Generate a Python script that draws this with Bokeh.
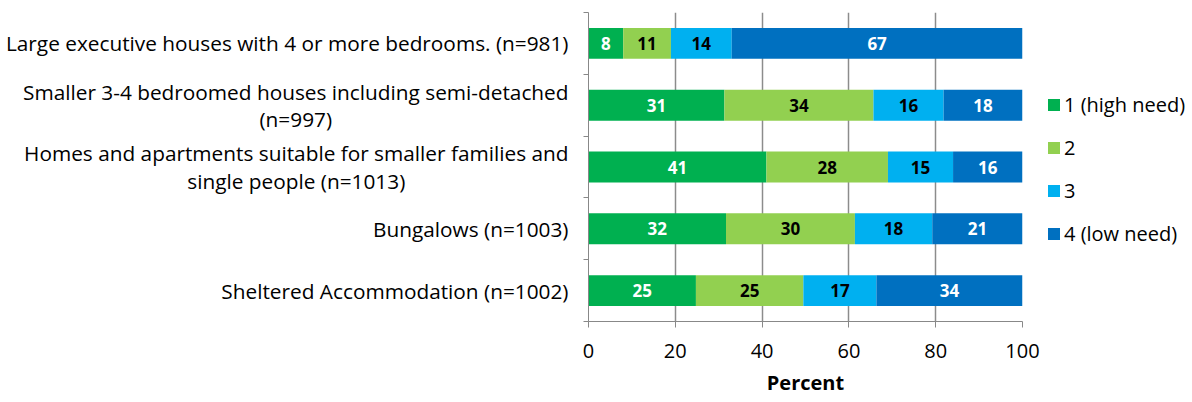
from bokeh.plotting import figure
from bokeh.layouts import row
from bokeh.models import (ColumnDataSource, Legend, LegendItem, FixedTicker, Range1d)
from bokeh.core.properties import value
from bokeh.embed import file_html
from bokeh.resources import INLINE

categories = [
    "Large executive houses with 4 or more bedrooms. (n=981)",
    "Smaller 3-4 bedroomed houses including semi-detached\n(n=997)",
    "Homes and apartments suitable for smaller families and\nsingle people (n=1013)",
    "Bungalows (n=1003)",
    "Sheltered Accommodation (n=1002)",
]
series_names = ["1 (high need)", "2", "3", "4 (low need)"]
need1 = [8, 31, 41, 32, 25]
need2 = [11, 34, 28, 30, 25]
need3 = [14, 16, 15, 18, 17]
need4 = [67, 18, 16, 21, 34]
x_ticks = [0, 20, 40, 60, 80, 100]

colors = ["#00B050", "#92D050", "#00B0F0", "#0070C0"]
label_colors = ["white", "black", "black", "white"]
FONT = "Open Sans"
FS = "20px"
H = 398
TOP = 12
BOTTOM = 71

n = len(categories)
ypos = [n - 0.5 - i for i in range(n)]
series = [need1, need2, need3, need4]
totals = [sum(s[i] for s in series) for i in range(n)]
yr = Range1d(0, n)

# ---------------- category labels (left panel) ----------------
pl = figure(width=578, height=H, output_backend="svg", toolbar_location=None,
            x_range=Range1d(0, 1), y_range=yr, x_axis_type=None, y_axis_type=None,
            min_border_left=0, min_border_right=0, min_border_top=TOP,
            min_border_bottom=BOTTOM)
pl.outline_line_color = None
pl.grid.visible = False
src_l = ColumnDataSource(dict(x=[1] * n, y=ypos, t=categories))
pl.text(x="x", y="y", text="t", source=src_l, x_offset=-10,
        anchor="center_right", text_align="center", text_baseline="middle",
        text_font=value(FONT), text_font_size="20.8px", text_color="black",
        text_line_height=0.97)

# ---------------- main chart ----------------
p = figure(width=468, height=H, output_backend="svg", toolbar_location=None,
           x_range=Range1d(0, 100), y_range=yr,
           min_border_left=10, min_border_top=TOP, min_border_right=24,
           min_border_bottom=BOTTOM)
p.outline_line_color = None

left = [0.0] * n
for k, s in enumerate(series):
    w = [s[i] / totals[i] * 100 for i in range(n)]
    right = [left[i] + w[i] for i in range(n)]
    src = ColumnDataSource(dict(y=ypos, left=left, right=right,
                                mid=[(left[i] + right[i]) / 2 for i in range(n)],
                                txt=[str(v) for v in s]))
    p.hbar(y="y", left="left", right="right", height=0.5, source=src,
           fill_color=colors[k], line_color=None)
    p.text(x="mid", y="y", text="txt", source=src, text_align="center",
           text_baseline="middle", text_color=label_colors[k],
           text_font=value(FONT), text_font_style="bold", text_font_size="17px")
    left = right

p.xaxis.ticker = FixedTicker(ticks=x_ticks)
p.xaxis.axis_label = "Percent"
p.xaxis.axis_label_text_font = FONT
p.xaxis.axis_label_text_font_style = "bold"
p.xaxis.axis_label_text_font_size = FS
p.xaxis.axis_label_standoff = 8
p.xaxis.major_label_text_font = FONT
p.xaxis.major_label_text_font_size = FS
p.xaxis.major_label_text_color = "black"
p.xaxis.axis_label_text_color = "black"
p.xaxis.axis_line_color = "#888888"
p.xaxis.major_tick_line_color = "#888888"
p.xaxis.major_tick_in = 0
p.xaxis.major_tick_out = 6
p.xaxis.minor_tick_line_color = None
p.xaxis.major_label_standoff = 16

p.yaxis.ticker = FixedTicker(ticks=list(range(n + 1)))
p.yaxis.major_label_text_font_size = "0px"
p.yaxis.axis_line_color = "#888888"
p.yaxis.major_tick_line_color = "#888888"
p.yaxis.major_tick_in = 0
p.yaxis.major_tick_out = 5
p.yaxis.minor_tick_line_color = None

p.ygrid.grid_line_color = None
p.xgrid.ticker = FixedTicker(ticks=x_ticks[1:])
p.xgrid.grid_line_color = "#8c8c8c"
p.xgrid.grid_line_width = 1.5
p.grid.level = "underlay"

# ---------------- legend (right panel) ----------------
pr = figure(width=144, height=H, output_backend="svg", toolbar_location=None,
            x_range=Range1d(0, 1), y_range=Range1d(0, 1),
            x_axis_type=None, y_axis_type=None,
            min_border_left=0, min_border_right=0, min_border_top=TOP,
            min_border_bottom=BOTTOM)
pr.outline_line_color = None
pr.grid.visible = False
items = []
for k in range(4):
    # zero-size placeholder bars; they only feed the legend
    r = pr.hbar(y="y", left="l", right="r", height=0, source=ColumnDataSource(
        dict(y=[-5], l=[0], r=[0])), fill_color=colors[k], line_color=None)
    items.append(LegendItem(label=series_names[k], renderers=[r]))
legend = Legend(items=items, location=(0, 74), orientation="vertical",
                glyph_width=15, glyph_height=15, label_standoff=3,
                label_height=24, spacing=16, padding=0, margin=0,
                border_line_color=None, background_fill_alpha=0,
                label_text_font=FONT, label_text_font_size=FS,
                label_text_color="black")
pr.add_layout(legend, "center")

layout = row(pl, p, pr, spacing=0)
open("out.html", "w").write(file_html(layout, INLINE))
